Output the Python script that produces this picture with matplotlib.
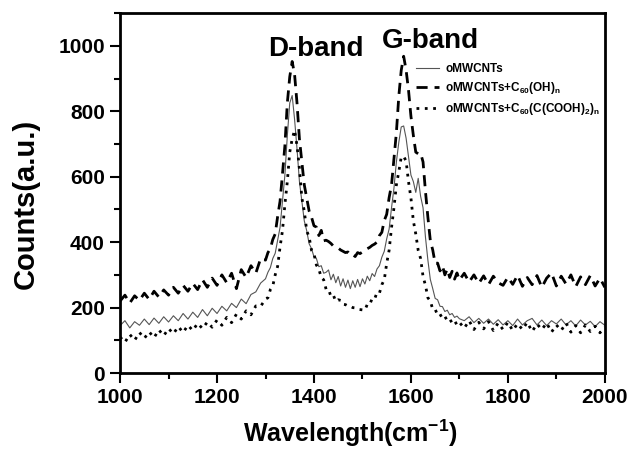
import numpy as np
import matplotlib
matplotlib.use("Agg")
import matplotlib.pyplot as plt
from matplotlib.ticker import MultipleLocator

plt.rcParams["font.family"] = ["Liberation Sans", "DejaVu Sans"]
plt.rcParams["font.weight"] = "bold"
plt.rcParams["mathtext.fontset"] = "custom"
plt.rcParams["mathtext.bf"] = "Liberation Sans:bold"
plt.rcParams["mathtext.rm"] = "Liberation Sans:bold"
plt.rcParams["mathtext.default"] = "bf"

# sampling grid (cm-1): coarse on the wings, finer across the two bands
wavenumber = np.concatenate([np.arange(1000, 1300, 10),
                             np.arange(1300, 1700, 5),
                             np.arange(1700, 2001, 10)])

# oMWCNTs (thin solid)
counts_omwcnt = [
    145, 160, 138, 157, 146, 165, 148, 168, 152, 172,
    156, 175, 160, 182, 165, 186, 170, 194, 175, 198,
    182, 204, 190, 213, 200, 226, 212, 240, 248, 275,
    # 1300-1695
    288, 308, 322, 350, 366, 405, 445, 525, 605, 725,
    825, 848, 775, 685, 585, 525, 465, 435, 395, 380,
    355, 350, 325, 328, 305, 308, 315, 285, 302, 276,
    295, 266, 288, 262, 284, 258, 282, 262, 286, 264,
    288, 272, 296, 282, 304, 295, 318, 328, 354, 372,
    410, 440, 505, 565, 645, 705, 752, 755, 718, 662,
    605, 585, 552, 595, 540, 505, 415, 345, 286, 258,
    228, 224, 204, 203, 188, 192, 178, 182, 170, 174,
    # 1700-2000
    166, 160, 172, 154, 167, 152, 165, 149, 163, 147,
    160, 145, 165, 147, 160, 167, 147, 162, 145, 160,
    150, 165, 147, 160, 144, 162, 147, 158, 142, 157, 146,
]

# oMWCNTs + C60(OH)n (dashed)
counts_oh = [
    220, 238, 214, 236, 222, 244, 225, 250, 232, 254,
    238, 262, 244, 268, 250, 274, 255, 285, 262, 290,
    268, 300, 276, 305, 258, 316, 292, 328, 305, 350,
    # 1300-1695
    345, 368, 380, 408, 425, 478, 525, 608, 695, 825,
    905, 952, 912, 825, 715, 645, 575, 535, 495, 476,
    450, 446, 420, 436, 404, 406, 402, 396, 388, 386,
    382, 376, 372, 368, 370, 360, 362, 356, 368, 365,
    370, 373, 380, 384, 390, 394, 400, 420, 430, 466,
    485, 536, 575, 656, 735, 846, 925, 968, 926, 865,
    785, 726, 675, 670, 672, 645, 555, 476, 405, 376,
    335, 336, 312, 328, 300, 318, 292, 311, 287, 306,
    # 1700-2000
    284, 305, 278, 300, 274, 297, 270, 296, 276, 268,
    293, 271, 299, 265, 292, 270, 298, 262, 290, 306,
    266, 296, 272, 300, 264, 294, 270, 298, 266, 290, 262,
]

# oMWCNTs + C60(C(COOH)2)n (dotted)
counts_cooh = [
    110, 94, 118, 100, 124, 106, 126, 108, 132, 114,
    136, 120, 142, 124, 146, 130, 152, 136, 156, 140,
    162, 146, 170, 154, 180, 165, 190, 178, 205, 204,
    # 1300-1695
    226, 230, 255, 266, 300, 326, 385, 435, 515, 585,
    675, 715, 742, 695, 625, 535, 495, 435, 415, 375,
    365, 330, 318, 292, 285, 256, 256, 234, 238, 219,
    224, 222, 210, 209, 205, 204, 200, 199, 195, 194,
    193, 192, 210, 209, 228, 226, 246, 244, 270, 285,
    335, 375, 445, 505, 575, 615, 660, 662, 648, 585,
    535, 465, 425, 375, 350, 295, 268, 230, 220, 195,
    195, 177, 180, 167, 173, 160, 165, 153, 160, 147,
    # 1700-2000
    155, 137, 160, 133, 155, 135, 157, 130, 153, 133,
    155, 130, 151, 133, 155, 127, 150, 133, 153, 125,
    147, 130, 153, 125, 145, 123, 147, 127, 143, 123, 140,
]

series_labels = [
    "oMWCNTs",
    "oMWCNTs+C$_{60}$(OH)$_n$",
    "oMWCNTs+C$_{60}$(C(COOH)$_2$)$_n$",
]

fig = plt.figure(figsize=(6.32, 4.5), dpi=100)
ax = fig.add_axes([0.190, 0.171, 0.767, 0.800])

ax.plot(wavenumber, counts_omwcnt, color="#555555", lw=0.8, label=series_labels[0])
ax.plot(wavenumber, counts_oh, color="black", lw=2.0, ls=(0, (4, 2.5)), label=series_labels[1])
ax.plot(wavenumber, counts_cooh, color="black", lw=2.0, ls=(0, (1, 2)), label=series_labels[2])

ax.set_xlim(1000, 2000)
ax.set_ylim(0, 1100)
ax.xaxis.set_major_locator(MultipleLocator(200))
ax.xaxis.set_minor_locator(MultipleLocator(100))
ax.yaxis.set_major_locator(MultipleLocator(200))
ax.yaxis.set_minor_locator(MultipleLocator(100))
ax.tick_params(which="major", direction="out", length=7, width=1.5, labelsize=15, pad=4)
ax.tick_params(which="minor", direction="out", length=4, width=1.5)
for side in ["left", "bottom", "top", "right"]:
    ax.spines[side].set_linewidth(2.0)
for lbl in ax.get_xticklabels() + ax.get_yticklabels():
    lbl.set_fontweight("bold")

ax.set_xlabel("Wavelength(cm$^{-1}$)", fontsize=18, fontweight="bold")
ax.xaxis.set_label_coords(0.475, -0.125)
ax.set_ylabel("Counts(a.u.)", fontsize=21, fontweight="bold")
ax.yaxis.set_label_coords(-0.165, 0.47)

ax.text(1404, 970, "D-band", fontsize=20, fontweight="bold", ha="center", va="baseline")
ax.text(1640, 994, "G-band", fontsize=20, fontweight="bold", ha="center", va="baseline")

leg = ax.legend(loc="upper left", bbox_to_anchor=(0.60, 0.875), frameon=False,
                prop={"size": 8.5, "weight": "bold"}, handlelength=2.0,
                handletextpad=0.5, labelspacing=0.45, borderaxespad=0)

fig.savefig("out.png", dpi=100)
